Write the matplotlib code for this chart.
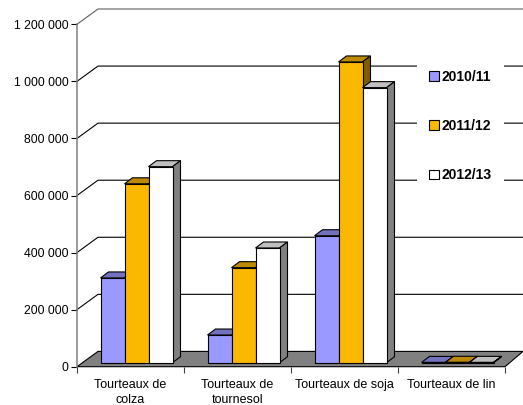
import matplotlib
matplotlib.use("Agg")
import matplotlib.pyplot as plt
from matplotlib.patches import Patch, Polygon

CATEGORIES = ["Tourteaux de\ncolza", "Tourteaux de\ntournesol", "Tourteaux de soja", "Tourteaux de lin"]
SEASONS = ["2010/11", "2011/12", "2012/13"]
V_2010 = [297000, 97000, 445000, 1000]
V_2011 = [627000, 333000, 1054000, 1500]
V_2012 = [687000, 402000, 964000, 1200]
Y_TICKS = [0, 200000, 400000, 600000, 800000, 1000000, 1200000]
Y_LABELS = ["0", "200 000", "400 000", "600 000", "800 000", "1 000 000", "1 200 000"]

# front, top, side colours per series
COLORS = [("#9999ff", "#7272bf", "#4c4c7f"),
          ("#fbb800", "#bc8a00", "#7e5c00"),
          ("#ffffff", "#bfbfbf", "#808080")]

W, H = 523, 405
LEFT, RIGHT, BOTTOM, TOP = 77, 505, 366.7, 24.3
LW = 0.8

plt.rcParams["font.family"] = ["Liberation Sans", "DejaVu Sans"]
fig = plt.figure(figsize=(W / 100, H / 100), dpi=100)
ax = fig.add_axes([LEFT / W, 1 - BOTTOM / H, (RIGHT - LEFT) / W, (BOTTOM - TOP) / H])
ax.set_xlim(0, len(CATEGORIES))
ax.set_ylim(0, Y_TICKS[-1])

# one pixel in data units
px = len(CATEGORIES) / (RIGHT - LEFT)
py = Y_TICKS[-1] / (BOTTOM - TOP)
wall_dx, wall_dy = 21 * px, 15.3 * py
bar_dx, bar_dy = 8 * px, 6 * py
base = 4 * py
bar_w = 24 * px
shift = 6 * px

# floor and back wall lines
ax.add_patch(Polygon([(0, 0), (wall_dx, wall_dy), (4 + 18 * px, wall_dy), (4, 0)],
                     closed=True, fc="#808080", ec="black", lw=LW, clip_on=False, zorder=2))
for t in Y_TICKS[1:]:
    c = "#606060" if t == Y_TICKS[-1] else "black"
    ax.plot([0, wall_dx, 4 + 18 * px], [t, t + wall_dy, t + wall_dy],
            color=c, lw=LW, clip_on=False, zorder=1)

# bars, left to right so each one hides the side of the previous
z = 3
for i in range(len(CATEGORIES)):
    for s, vals in enumerate([V_2010, V_2011, V_2012]):
        front, top, side = COLORS[s]
        x0 = i + 0.5 + shift + (s - 1.5) * bar_w
        y1 = base + vals[i]
        ax.add_patch(Polygon([(x0, y1), (x0 + bar_dx, y1 + bar_dy),
                              (x0 + bar_w + bar_dx, y1 + bar_dy), (x0 + bar_w, y1)],
                             closed=True, fc=top, ec="black", lw=LW, zorder=z, clip_on=False))
        ax.add_patch(Polygon([(x0 + bar_w, base), (x0 + bar_w + bar_dx, base + bar_dy),
                              (x0 + bar_w + bar_dx, y1 + bar_dy), (x0 + bar_w, y1)],
                             closed=True, fc=side, ec="black", lw=LW, zorder=z, clip_on=False))
        ax.bar(x0, vals[i], bar_w, bottom=base, align="edge", color=front,
               edgecolor="black", lw=LW, zorder=z, clip_on=False)
        z += 1

for name in ["top", "right", "bottom"]:
    ax.spines[name].set_visible(False)
ax.spines["left"].set_color("#808080")
ax.spines["left"].set_linewidth(1.1)

ax.set_yticks(Y_TICKS)
ax.set_yticklabels(Y_LABELS)
ax.tick_params(axis="y", length=4.3, width=LW, pad=2, labelsize=8.8, colors="black")
ax.set_xticks(range(len(CATEGORIES) + 1))
ax.set_xticklabels([])
ax.tick_params(axis="x", which="major", length=4.5, width=LW, color="#404040")
ax.set_xticks([i + 0.5 for i in range(len(CATEGORIES))], minor=True)
ax.set_xticklabels(CATEGORIES, minor=True, fontsize=9.0, linespacing=1.4)
ax.tick_params(axis="x", which="minor", length=0, pad=8.5)

handles = [Patch(fc=COLORS[s][0], ec="black", lw=LW) for s in range(3)]
leg = ax.legend(handles, SEASONS, loc="center left",
                bbox_to_anchor=(416.5 / W, 1 - 126 / H), bbox_transform=fig.transFigure,
                prop={"weight": "bold", "size": 10}, frameon=True, framealpha=1,
                edgecolor="none", facecolor="white", fancybox=False,
                handlelength=0.7, handleheight=0.7, handletextpad=0.22,
                labelspacing=2.55, borderpad=0.9, borderaxespad=0)
leg.set_zorder(50)

fig.savefig("out.png", dpi=100)
